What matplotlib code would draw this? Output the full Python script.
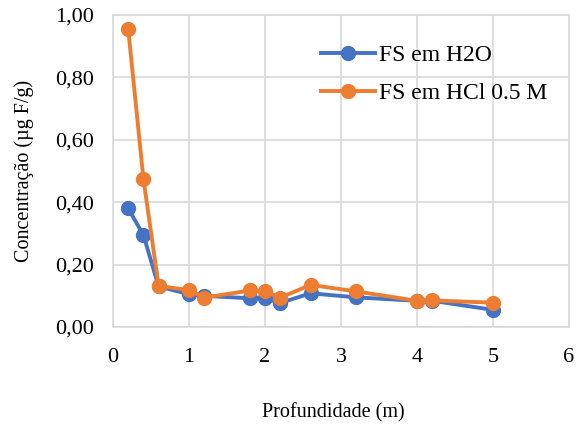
import numpy as np
import matplotlib.pyplot as plt
from matplotlib.ticker import FuncFormatter

plt.rcParams['font.family'] = ['Liberation Serif', 'DejaVu Serif']

depth = [0.2, 0.4, 0.6, 1.0, 1.2, 1.8, 2.0, 2.2, 2.6, 3.2, 4.0, 4.2, 5.0]
fs_h2o = [0.38, 0.295, 0.13, 0.105, 0.10, 0.092, 0.093, 0.077, 0.108, 0.095, 0.084, 0.084, 0.055]
fs_hcl = [0.955, 0.475, 0.132, 0.118, 0.094, 0.117, 0.114, 0.094, 0.135, 0.114, 0.084, 0.085, 0.078]

fig = plt.figure(figsize=(5.87, 4.30), dpi=100)
ax = fig.add_axes([113/587, 1 - 327/430, 456/587, 312/430])

blue = '#4472c4'
orange = '#ed7d31'
ax.plot(depth, fs_h2o, color=blue, lw=2.8, marker='o', ms=10, label='FS em H2O', zorder=3)
ax.plot(depth, fs_hcl, color=orange, lw=2.8, marker='o', ms=10, label='FS em HCl 0.5 M', zorder=4)

ax.set_xlim(0, 6)
ax.set_ylim(0, 1.0)
ax.set_xticks(range(0, 7))
ax.set_yticks(np.arange(0, 1.01, 0.2))
ax.yaxis.set_major_formatter(FuncFormatter(lambda v, p: f'{v:.2f}'.replace('.', ',')))
ax.grid(True, color='#d9d9d9', lw=1.2)
for s in ax.spines.values():
    s.set_color('#d9d9d9')
    s.set_linewidth(1.2)
ax.tick_params(length=0, labelsize=16)
ax.tick_params(axis='x', pad=15)
ax.tick_params(axis='y', pad=14)

ax.set_xlabel('Profundidade (m)', fontsize=14.5)
ax.xaxis.set_label_coords((333 - 113) / 456, (327 - 413) / 312)
ax.xaxis.label.set_va('center')
ax.set_ylabel('Concentração (µg F/g)', fontsize=14.5)
ax.yaxis.set_label_coords((24 - 113) / 456, 0.5)
ax.yaxis.label.set_va('center')

leg = ax.legend(loc='upper left', bbox_to_anchor=(0.456, 0.905), frameon=False,
                fontsize=17, handlelength=2.3, handletextpad=0.15, labelspacing=0.7,
                borderpad=0, borderaxespad=0)

plt.savefig('out.png', dpi=100)
